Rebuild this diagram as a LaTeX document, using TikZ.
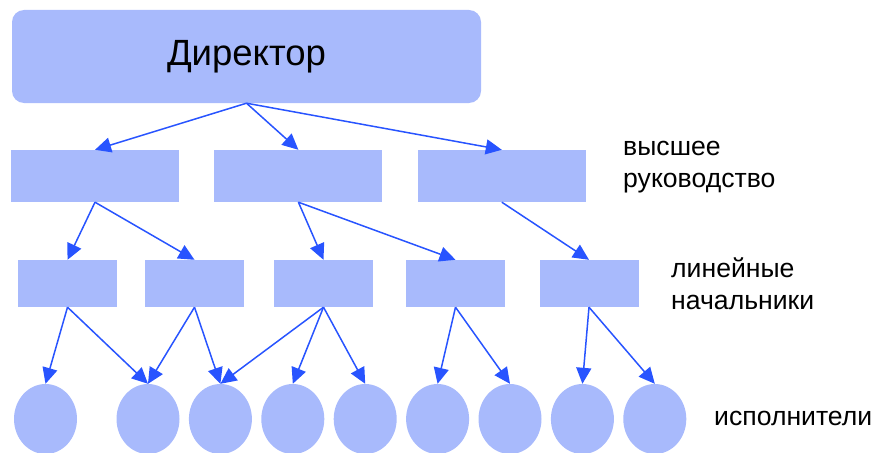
\documentclass[tikz,border=0pt]{standalone}
\usepackage{fontspec}
\setmainfont{Liberation Sans}
\usetikzlibrary{arrows.meta, positioning, shapes.geometric}
\definecolor{boxblue}{RGB}{168,186,252}
\definecolor{linkblue}{RGB}{40,84,255}
\tikzset{
  chief/.style={rectangle, fill=boxblue, rounded corners=12pt,
    minimum width=469pt, minimum height=93pt, inner sep=0pt,
    font=\fontsize{36.5}{42}\selectfont},
  topbox/.style={rectangle, fill=boxblue, minimum width=168pt,
    minimum height=52pt, inner sep=0pt},
  linebox/.style={rectangle, fill=boxblue, minimum width=99pt,
    minimum height=47pt, inner sep=0pt},
  worker/.style={ellipse, fill=boxblue, minimum width=63pt,
    minimum height=70pt, inner sep=0pt},
  link/.style={-{Triangle[length=16pt, width=15pt]}, line width=1.5pt, color=linkblue},
  levelname/.style={anchor=west, inner sep=0pt, align=left,
    font=\fontsize{26.6}{32}\selectfont}
}

\begin{document}
\begin{tikzpicture}[x=1pt, y=-1pt]
  \useasboundingbox (0,0) rectangle (877,452);

  \node[chief] (dir) at (246.5,56.5) {Директор};

  % upper management
  \node[topbox] (top1) at (95,176) {};
  \node[topbox, right=35pt of top1] (top2) {};
  \node[topbox, right=35pt of top2] (top3) {};

  % line managers
  \node[linebox] (mid1) at (67.5,283.5) {};
  \node[linebox] (mid2) at (194.5,283.5) {};
  \node[linebox] (mid3) at (323.5,283.5) {};
  \node[linebox] (mid4) at (455.5,283.5) {};
  \node[linebox] (mid5) at (589,283.5) {};

  % workers
  \node[worker] (w1) at (45.5,419) {};
  \node[worker] (w2) at (148,419) {};
  \node[worker, right=9pt of w2] (w3) {};
  \node[worker, right=9pt of w3] (w4) {};
  \node[worker, right=9pt of w4] (w5) {};
  \node[worker, right=9pt of w5] (w6) {};
  \node[worker, right=9pt of w6] (w7) {};
  \node[worker, right=9pt of w7] (w8) {};
  \node[worker, right=9pt of w8] (w9) {};

  % level names
  \node[levelname] (lvl1) at (623,167) {высшее\\руководство};
  \node[levelname] (lvl2) at (671,284) {линейные\\начальники};
  \node[levelname] (lvl3) at (714,418) {исполнители};

  % links
  \foreach \t in {top1,top2,top3}
    \draw[link] (dir.south) -- (\t.north);
  \draw[link] (top1.south) -- (mid1.north);
  \draw[link] (top1.south) -- (mid2.north);
  \draw[link] (top2.south) -- (mid3.north);
  \draw[link] (top2.south) -- (mid4.north);
  \draw[link] (top3.south) -- (mid5.north);
  \draw[link] (mid1.south) -- (w1.north);
  \draw[link] (mid1.south) -- (w2.north);
  \draw[link] (mid2.south) -- (w2.north);
  \draw[link] (mid2.south) -- (w3.north);
  \foreach \w in {w3,w4,w5}
    \draw[link] (mid3.south) -- (\w.north);
  \draw[link] (mid4.south) -- (w6.north);
  \draw[link] (mid4.south) -- (w7.north);
  \draw[link] (mid5.south) -- (w8.north);
  \draw[link] (mid5.south) -- (w9.north);
\end{tikzpicture}
\end{document}
